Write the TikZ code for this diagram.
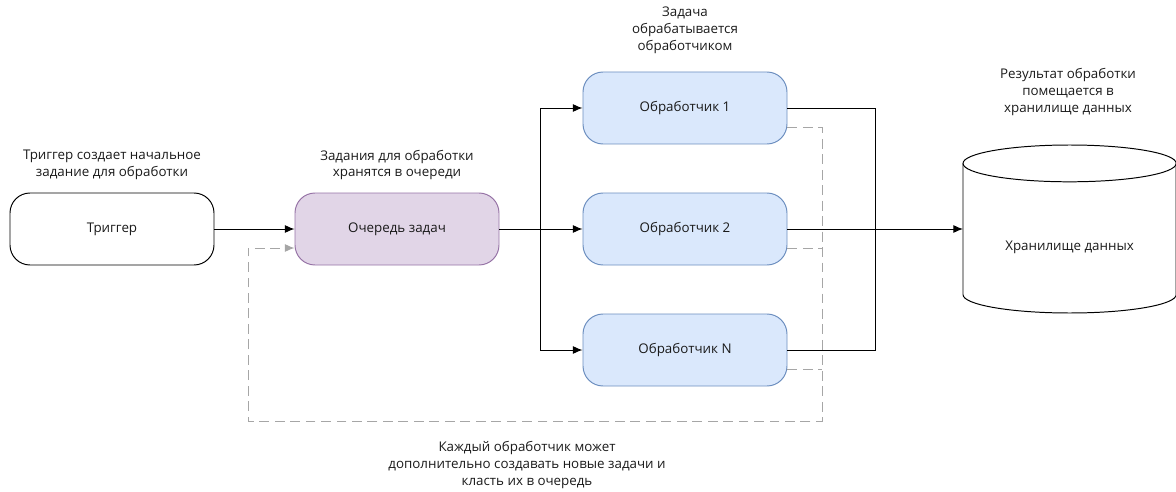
\documentclass[tikz,border=0pt]{standalone}
\usepackage{fontspec}
\setmainfont{Open Sans}
\usetikzlibrary{arrows.meta}

\definecolor{queuefill}{HTML}{E1D5E7}
\definecolor{queueline}{HTML}{9673A6}
\definecolor{workfill}{HTML}{DAE8FC}
\definecolor{workline}{HTML}{6C8EBF}
\definecolor{loopgray}{HTML}{A6A6A6}
\definecolor{ink}{HTML}{1A1A1A}

\begin{document}
\begin{tikzpicture}[
    font=\fontsize{9.5}{12}\selectfont, text=ink,
    box/.style={draw, rounded corners=0.5cm, line width=0.7pt,
      minimum width=5.1cm, minimum height=1.8cm},
    note/.style={align=center},
    link/.style={line width=0.7pt},
    flow/.style={-{Latex[length=2.4mm, width=2mm]}, line width=0.7pt},
    back/.style={-{Latex[length=2.4mm, width=2mm]}, loopgray, line width=0.7pt,
      dash pattern=on 7pt off 4pt},
  ]
  \useasboundingbox (0,0) rectangle (29.4,-12.3);

  % ---- Trigger and queue ----
  \node[box, fill=white] (trigger) at (2.8,-5.725) {Триггер};
  \node[note] (trignote) at (2.8,-4.125)
      {Триггер создает начальное\\задание для обработки};
  \node[box, fill=queuefill, draw=queueline] (queue) at (9.925,-5.725) {Очередь задач};
  \node[note] (queuenote) at (9.925,-4.125)
      {Задания для обработки\\хранятся в очереди};
  \draw[flow] (trigger.east) -- (queue.west);

  % ---- Workers ----
  \node[box, fill=workfill, draw=workline] (worker1) at (17.125,-2.7) {Обработчик 1};
  \node[box, fill=workfill, draw=workline] (worker2) at (17.125,-5.725) {Обработчик 2};
  \node[box, fill=workfill, draw=workline] (workerN) at (17.125,-8.75) {Обработчик N};
  \node[note] (worknote) at (17.125,-0.75)
      {Задача\\обрабатывается\\обработчиком};

  % queue fans out to every worker
  \coordinate (split) at (13.5,-5.725);
  \draw[link] (queue.east) -- (split);
  \draw[flow] (split) |- (worker1.west);
  \draw[flow] (split) -- (worker2.west);
  \draw[flow] (split) |- (workerN.west);

  % ---- Data store (cylinder drawn by hand) ----
  \node[minimum width=5.33cm, minimum height=4.2cm, outer sep=0pt,
      label={[yshift=-0.45cm]center:Хранилище данных}] (store) at (26.74,-5.725) {};
  \draw[link] ([yshift=-0.46cm]store.north) ellipse [x radius=2.665cm, y radius=0.46cm];
  \draw[link] ([yshift=-0.46cm]store.north west) -- ([yshift=0.46cm]store.south west)
      arc[start angle=180, end angle=360, x radius=2.665cm, y radius=0.46cm]
      -- ([yshift=-0.46cm]store.north east);
  \node[note] (storenote) at (26.7,-2.3)
      {Результат обработки\\помещается в\\хранилище данных};

  % results go to the store
  \coordinate (merge) at (21.875,-5.725);
  \draw[link] (worker1.east) -| (merge);
  \draw[link] (workerN.east) -| (merge);
  \draw[flow] (worker2.east) -- (store.west);

  % ---- Feedback: workers put new tasks back in the queue ----
  \coordinate (backR) at (20.55,-10.525);
  \coordinate (backL) at (6.2,-10.525);
  \draw[back] ([yshift=-0.475cm]worker1.east) -| (backR) -- (backL)
      |- ([yshift=-0.475cm]queue.west);
  \draw[back, -] ([yshift=-0.475cm]worker2.east) -- ([yshift=-0.475cm]worker2.east -| backR);
  \draw[back, -] ([yshift=-0.475cm]workerN.east) -- ([yshift=-0.475cm]workerN.east -| backR);
  \node[note] (backnote) at (13.175,-11.625)
      {Каждый обработчик может\\дополнительно создавать новые задачи и\\класть их в очередь};

\end{tikzpicture}
\end{document}
